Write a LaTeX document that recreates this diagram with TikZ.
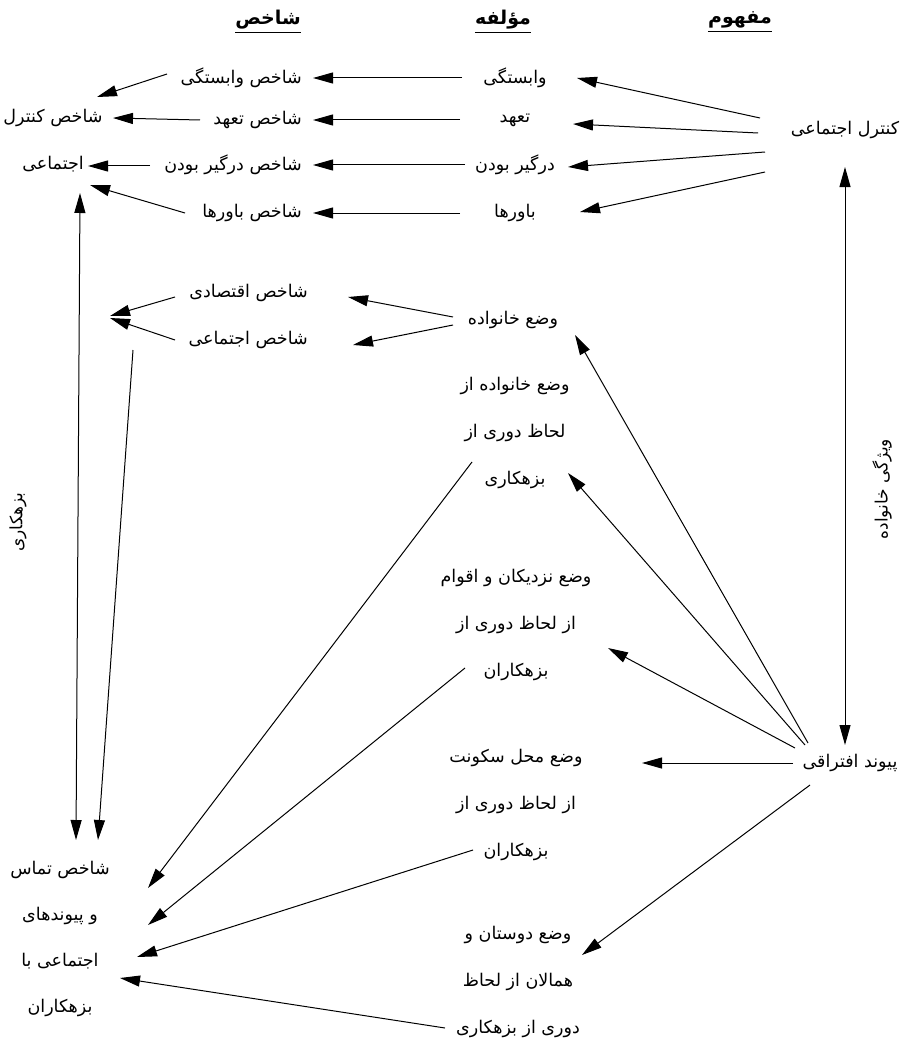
\documentclass[tikz,border=0pt]{standalone}
\usepackage{fontspec}
\newfontfamily\fa[Script=Arabic]{DejaVu Sans}
\TeXXeTstate=1
\usetikzlibrary{arrows.meta}
\newcommand{\fat}[1]{\beginR #1\endR}
\begin{document}
\begin{tikzpicture}[x=1pt,y=1pt,
  lbl/.style={inner sep=0pt, font=\fa\fontsize{17.5}{47}\selectfont, align=center},
  hdr/.style={inner sep=0pt, font=\fa\bfseries\fontsize{19}{22}\selectfont},
  rot/.style={inner sep=0pt, font=\fa\fontsize{17}{19}\selectfont, rotate=90},
  arr/.style={-{Triangle[length=20pt,width=11pt]}, line width=1pt},
  darr/.style={{Triangle[length=20pt,width=11pt]}-{Triangle[length=20pt,width=11pt]}, line width=1pt},
  uline/.style={line width=1.4pt}]
\useasboundingbox (0,0) rectangle (912,-1043);
% headers
\node[hdr] (hS) at (268,-20) {\fat{شاخص}};
\node[hdr] (hM) at (503,-20) {\fat{مؤلفه}};
\node[hdr] (hF) at (740,-20) {\fat{مفهوم}};
\foreach \h in {hS,hM,hF}{\draw[uline] ([yshift=-3pt]\h.south west) -- ([yshift=-3pt]\h.south east);}
% indicator column
\node[lbl,anchor=east] (s1) at (302,-78) {\fat{شاخص وابستگی}};
\node[lbl,anchor=east] (s2) at (302,-120) {\fat{شاخص تعهد}};
\node[lbl,anchor=east] (s3) at (302,-165) {\fat{شاخص درگیر بودن}};
\node[lbl,anchor=east] (s4) at (302,-213) {\fat{شاخص باورها}};
% component column
\node[lbl] (m1) at (515,-78) {\fat{وابستگی}};
\node[lbl] (m2) at (515,-120) {\fat{تعهد}};
\node[lbl] (m3) at (515,-165) {\fat{درگیر بودن}};
\node[lbl] (m4) at (515,-213) {\fat{باورها}};
% left social control
\node[lbl] (k) at (53,-141) {\fat{شاخص کنترل}\\\fat{اجتماعی}};
% concept
\node[lbl] (c) at (845,-130) {\fat{کنترل اجتماعی}};
% family
\node[lbl,anchor=east] (e1) at (308,-293) {\fat{شاخص اقتصادی}};
\node[lbl,anchor=east] (e2) at (308,-340) {\fat{شاخص اجتماعی}};
\coordinate (conv) at (110,-316);
\node[lbl] (v) at (513,-320) {\fat{وضع خانواده}};
\node[lbl] (n1) at (515,-433) {\fat{وضع خانواده از}\\\fat{لحاظ دوری از}\\\fat{بزهکاری}};
\node[lbl] (n2) at (516,-625) {\fat{وضع نزدیکان و اقوام}\\\fat{از لحاظ دوری از}\\\fat{بزهکاران}};
\node[lbl] (n3) at (516,-805) {\fat{وضع محل سکونت}\\\fat{از لحاظ دوری از}\\\fat{بزهکاران}};
\node[lbl] (n4) at (518,-982) {\fat{وضع دوستان و}\\\fat{همالان از لحاظ}\\\fat{دوری از بزهکاری}};
\node[lbl] (p) at (850,-763) {\fat{پیوند افتراقی}};
\node[lbl,font=\fa\fontsize{17.5}{46}\selectfont] (t) at (60,-939) {\fat{شاخص تماس}\\\fat{و پیوندهای}\\\fat{اجتماعی با}\\\fat{بزهکاران}};
\node[rot] (lb) at (18,-522) {\fat{بزهکاری}};
\node[rot] (lf) at (882,-489) {\fat{ویژگی خانواده}};
% component -> indicator
\draw[arr] ([xshift=-53pt]m1.center) -- ([xshift=11pt]s1.east);
\draw[arr] ([xshift=-55pt]m2.center) -- ([xshift=11pt]s2.east);
\draw[arr] ([xshift=-50pt]m3.center) -- ([xshift=11pt]s3.east);
\draw[arr] ([xshift=-55pt]m4.center) -- ([xshift=11pt]s4.east);
% indicator -> social control index
\draw[arr] ([xshift=-135pt,yshift=4pt]s1.east) -- ([xshift=44pt,yshift=44pt]k.center);
\draw[arr] ([xshift=-102pt]s2.east) -- ([xshift=60pt,yshift=23pt]k.center);
\draw[arr] ([xshift=-152pt,yshift=-1pt]s3.east) -- ([xshift=35pt,yshift=-25pt]k.center);
\draw[arr] ([xshift=-117pt]s4.east) -- ([xshift=37pt,yshift=-44pt]k.center);
% concept -> components
\draw[arr] ([xshift=-85pt,yshift=12pt]c.center) -- ([xshift=62pt]m1.center);
\draw[arr] ([xshift=-87pt,yshift=-3pt]c.center) -- ([xshift=58pt,yshift=-4pt]m2.center);
\draw[arr] ([xshift=-80pt,yshift=-22pt]c.center) -- ([xshift=53pt,yshift=-2pt]m3.center);
\draw[arr] ([xshift=-80pt,yshift=-42pt]c.center) -- ([xshift=65pt,yshift=1pt]m4.center);
% verticals
\draw[darr] ([yshift=-37pt]c.center) -- ([xshift=-5pt,yshift=18pt]p.center);
\draw[darr] ([xshift=27pt,yshift=-52pt]k.center) -- ([xshift=16pt,yshift=99pt]t.center);
% family indicators
\draw[arr] ([xshift=-133pt,yshift=-4pt]e1.east) -- (conv);
\draw[arr] ([xshift=-133pt]e2.east) -- ([yshift=-2pt]conv);
\draw[arr] ([xshift=23pt,yshift=-34pt]conv) -- ([xshift=38pt,yshift=99pt]t.center);
\draw[arr] ([xshift=-60pt,yshift=3pt]v.center) -- ([xshift=40pt,yshift=-4pt]e1.east);
\draw[arr] ([xshift=-60pt,yshift=-5pt]v.center) -- ([xshift=45pt,yshift=-5pt]e2.east);
% differential association -> components
\draw[arr] ([xshift=-42pt,yshift=20pt]p.center) -- ([xshift=62pt,yshift=-15pt]v.center);
\draw[arr] ([xshift=-45pt,yshift=18pt]p.center) -- ([xshift=53pt,yshift=-40pt]n1.center);
\draw[arr] ([xshift=-55pt,yshift=15pt]p.center) -- ([xshift=92pt,yshift=-23pt]n2.center);
\draw[arr] ([xshift=-57pt]p.center) -- ([xshift=126pt,yshift=42pt]n3.center);
\draw[arr] ([xshift=-40pt,yshift=-22pt]p.center) -- ([xshift=64pt,yshift=27pt]n4.center);
% components -> contact index
\draw[arr] ([xshift=-43pt,yshift=-29pt]n1.center) -- ([xshift=88pt,yshift=51pt]t.center);
\draw[arr] ([xshift=-51pt,yshift=-43pt]n2.center) -- ([xshift=88pt,yshift=14pt]t.center);
\draw[arr] ([xshift=-43pt,yshift=-45pt]n3.center) -- ([xshift=77pt,yshift=-18pt]t.center);
\draw[arr] ([xshift=-73pt,yshift=-46pt]n4.center) -- ([xshift=60pt,yshift=-39pt]t.center);
\end{tikzpicture}
\end{document}
